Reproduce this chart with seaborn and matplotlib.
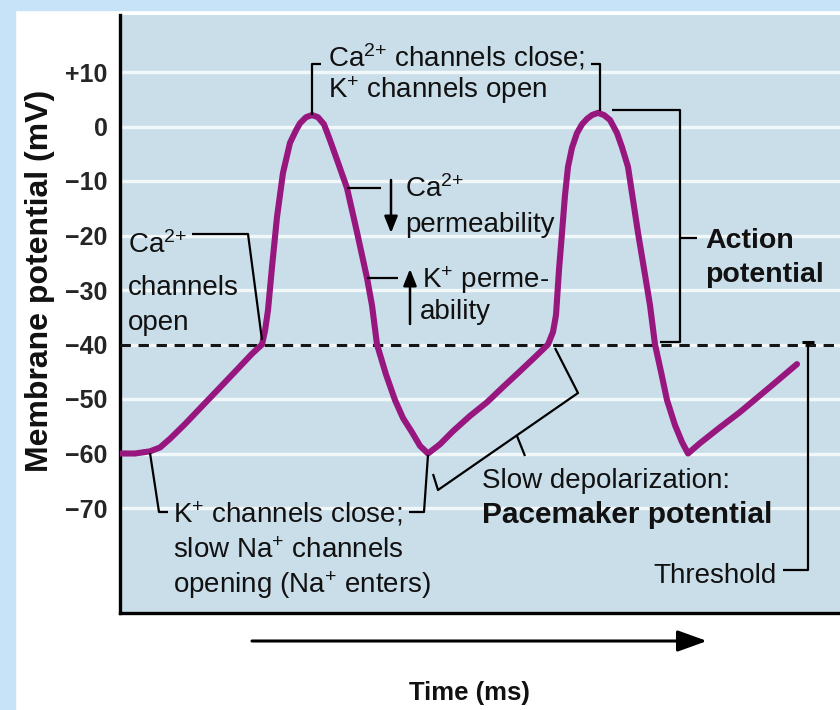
import matplotlib
matplotlib.use("Agg")
import matplotlib.pyplot as plt
from matplotlib.patches import Rectangle
import seaborn as sns

# -----------------------
# Data: pacemaker cell membrane potential
# -----------------------
time_ms = [0, 15, 30, 40, 50, 65, 90, 115, 132, 142, 145, 148, 152, 157, 163,
           170, 176, 180, 186, 192, 198, 204, 210, 217, 227, 237, 247, 252, 257,
           266, 275, 283, 292, 300, 308,
           320, 333, 350, 367, 383, 400, 415, 428,
           433, 436, 439, 442, 445, 448, 452, 457, 462, 467, 472, 478, 484, 490,
           497, 502, 508,
           518, 525, 530, 535, 541, 547, 555, 562, 568,
           580, 600, 620, 650, 677]
membrane_mv = [-60, -60, -59.6, -58.9, -57.3, -54.6, -49.8, -45.0, -41.7, -40,
               -37.5, -33.7, -25.8, -16.6, -8.5,
               -3.0, -0.7, 0.6, 1.7, 2.1, 1.7, 0.4, -2.5, -6.1, -11.3, -19.4,
               -27.8, -32.8, -40,
               -45.5, -50.2, -53.5, -56.1, -58.6, -60,
               -58.3, -55.9, -53.1, -50.6, -47.8, -44.9, -42.3, -40,
               -37.7, -34.6, -26.3, -19.5, -12.6, -7.4, -3.9, -1.2, 0.4, 1.4,
               2.1, 2.5, 2.1, 1.2, -1.2, -3.8, -7.4,
               -19.5, -27.2, -32.8, -40, -45.0, -50.2, -54.8, -57.9, -60,
               -58.1, -55.2, -52.4, -47.8, -43.6]
threshold_mv = -40
y_ticks = [-70, -60, -50, -40, -30, -20, -10, 0, 10]
y_tick_labels = ["\u221270", "\u221260", "\u221250", "\u221240", "\u221230",
                 "\u221220", "\u221210", "0", "+10"]

# -----------------------
# Style
# -----------------------
sns.set_style("darkgrid", {"axes.facecolor": "#cadeea", "grid.color": "#f2f7fa"})
plt.rcParams["font.family"] = ["Liberation Sans", "DejaVu Sans"]
plt.rcParams["mathtext.default"] = "regular"

W, H = 840, 710
fig = plt.figure(figsize=(W / 100, H / 100), dpi=100, facecolor="white")
frame_blue = "#c6e3f8"
fig.patches.append(Rectangle((0, 0), 15 / W, 1, transform=fig.transFigure,
                             color=frame_blue, zorder=0))
fig.patches.append(Rectangle((0, 1 - 10 / H), 1, 10 / H, transform=fig.transFigure,
                             color=frame_blue, zorder=0))

ax = fig.add_axes([120 / W, 97 / H, 720 / W, 598 / H])

# pixel -> data helpers (for annotation placement only)
X0, Y_ZERO, PX_PER_MV = 120, 126.5, 5.45


def px(x, y):
    return (x - X0, (Y_ZERO - y) / PX_PER_MV)


ax.set_xlim(0, 720)
ax.set_ylim(px(0, 613)[1], px(0, 15)[1])

# curve
sns.lineplot(x=time_ms, y=membrane_mv, ax=ax, sort=False, estimator=None,
             color="#98177f", linewidth=4.4, zorder=4)
ax.lines[-1].set_solid_joinstyle("round")

# threshold
ax.axhline(threshold_mv, color="#151515", lw=2.2, linestyle=(0, (3.4, 2.5)), zorder=3)

# axes cosmetics
ax.set_yticks(y_ticks)
ax.set_yticklabels(y_tick_labels, fontsize=18, fontweight="bold")
ax.set_xticks([])
ax.tick_params(axis="y", length=0, pad=9)
ax.yaxis.grid(True, color="#f2f7fa", lw=2.4)
ax.xaxis.grid(False)
ax.set_xlabel("")
ax.set_ylabel("")
for side in ["top", "right"]:
    ax.spines[side].set_visible(False)
for side in ["left", "bottom"]:
    ax.spines[side].set_visible(True)
    ax.spines[side].set_color("black")
    ax.spines[side].set_linewidth(2.4)


def leader(points, lw=1.6):
    xs, ys = zip(*[px(x, y) for x, y in points])
    ax.plot(xs, ys, color="black", lw=lw, zorder=5, clip_on=False,
            solid_capstyle="butt")


def label(x, y, s, size=20, weight="normal", ha="left"):
    ax.text(*px(x, y), s, fontsize=size, fontweight=weight, ha=ha, va="baseline",
            color="#111111", zorder=6)


def small_arrow(x, y_from, y_to):
    ax.annotate("", xy=px(x, y_to), xytext=px(x, y_from),
                arrowprops=dict(arrowstyle="-|>,head_length=1.0,head_width=0.4",
                                mutation_scale=10, lw=1.8, color="black",
                                shrinkA=0, shrinkB=0), zorder=6)


CA = "Ca$^{2{+}}$"

# top annotation
label(328, 67, CA + " channels close;")
label(328, 98, "K$^{+}$ channels open")
leader([(312, 115), (312, 64), (321, 64)])
leader([(591, 64), (600, 64), (600, 111)])

# Ca2+ channels open
label(128, 253, CA)
label(128, 295, "channels")
label(128, 330, "open")
leader([(192, 234), (248, 234), (262, 340)])

# permeability notes
leader([(347, 188), (381, 188)])
small_arrow(391, 180, 233)
label(405, 197, CA)
label(405, 232, "permeability")

leader([(367, 278), (398, 278)])
small_arrow(410, 324, 269)
label(422, 288, "K$^{+}$ perme-")
label(420, 319, "ability")

# action potential bracket
leader([(612, 110), (680, 110), (680, 342), (660, 342)])
leader([(680, 238), (697, 238)])
label(705, 248, "Action", size=20.5, weight="bold")
label(705, 282, "potential", size=20.5, weight="bold")

# K+ channels close
leader([(150, 453), (159, 512), (168, 512)])
leader([(409, 512), (424, 512), (428, 455)])
label(173, 523, "K$^{+}$ channels close;")
label(173, 558, "slow Na$^{+}$ channels")
label(173, 593, "opening (Na$^{+}$ enters)")

# pacemaker bracket
leader([(433, 474), (438, 490), (578, 393), (555, 348)])
leader([(517, 436), (525, 456)])
label(482, 488, "Slow depolarization:")
label(482, 523, "Pacemaker potential", size=21.5, weight="bold")

# threshold label
leader([(783, 570), (808, 570), (808, 342)])
leader([(802, 342), (814, 342)], lw=2.2)
label(777, 583, "Threshold", ha="right")

# time arrow and axis titles
ax.annotate("", xy=(707, H - 641), xycoords="figure pixels",
            xytext=(252, H - 641), textcoords="figure pixels",
            arrowprops=dict(arrowstyle="-|>,head_length=1.8,head_width=0.65",
                            mutation_scale=10, lw=2.2, color="black",
                            shrinkA=0, shrinkB=0),
            annotation_clip=False)
fig.text(469 / W, 1 - 700 / H, "Time (ms)", fontsize=18.5, fontweight="bold",
         ha="center", va="baseline", color="#111111")
fig.text(40 / W, 1 - 281 / H, "Membrane potential (mV)", fontsize=23,
         fontweight="bold", rotation=90, ha="center", va="center", color="#111111")

fig.savefig("out.png", dpi=100)
